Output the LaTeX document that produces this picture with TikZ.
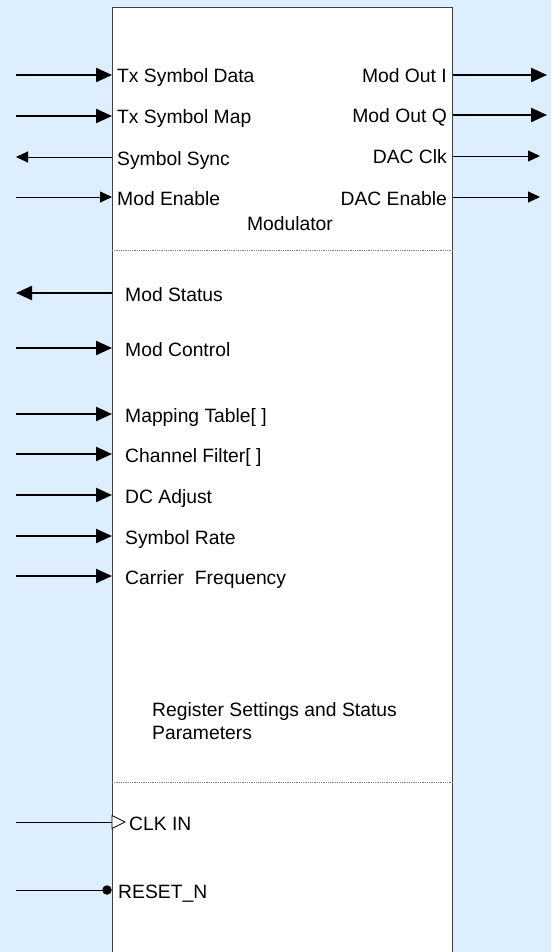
\documentclass[tikz,border=0pt]{standalone}
\usepackage{fontspec}
\setmainfont{Liberation Sans}
\usetikzlibrary{arrows.meta}
\definecolor{canvas}{HTML}{DDEEFF}
\definecolor{edge}{HTML}{404040}

\begin{document}
\begin{tikzpicture}[x=1pt, y=-1pt,
    font=\fontsize{19.3}{23}\selectfont,
    block/.style={draw=edge, fill=white, line width=1pt, inner sep=0pt,
      minimum width=340pt, minimum height=970pt},
    cut/.style={draw=gray, line width=0.8pt, densely dotted},
    bus/.style={line width=2.3pt, -{Triangle[length=16pt,width=14pt]}},
    wire/.style={line width=0.9pt, -{Triangle[length=12pt,width=11pt]}},
    lport/.style={anchor=base west, inner sep=0pt},
    rport/.style={anchor=base east, inner sep=0pt}
    ]
  \fill[canvas] (0,0) rectangle (551,952);
  \useasboundingbox (0,0) rectangle (551,952);
  \clip (0,0) rectangle (551,952);

  \node[block, anchor=north west] (mod) at (112,7) {};
  \coordinate (cut1) at (112,250);
  \coordinate (cut2) at (112,782);
  \draw[cut] (cut1) -- (cut1 -| mod.east);
  \draw[cut] (cut2) -- (cut2 -| mod.east);

  % data ports
  \coordinate (txdata) at (16,75);
  \coordinate (txmap) at (16,116);
  \coordinate (sync) at (16,157);
  \coordinate (enable) at (16,197);
  \draw[bus] (txdata) -- (txdata -| mod.west);
  \draw[bus] (txmap) -- (txmap -| mod.west);
  \draw[wire] (sync -| mod.west) -- (sync);
  \draw[wire] (enable) -- (enable -| mod.west);
  \node[lport] (txdataL) at (117,83) {Tx Symbol Data};
  \node[lport] (txmapL) at (117,124) {Tx Symbol Map};
  \node[lport] (syncL) at (117,165) {Symbol Sync};
  \node[lport] (enableL) at (117,205) {Mod Enable};

  \coordinate (outi) at (547,75);
  \coordinate (outq) at (547,115);
  \coordinate (dacclk) at (540,156);
  \coordinate (dacen) at (540,197);
  \draw[bus] (outi -| mod.east) -- (outi);
  \draw[bus] (outq -| mod.east) -- (outq);
  \draw[wire] (dacclk -| mod.east) -- (dacclk);
  \draw[wire] (dacen -| mod.east) -- (dacen);
  \node[rport] (outiL) at (447,83) {Mod Out I};
  \node[rport] (outqL) at (447,123) {Mod Out Q};
  \node[rport] (dacclkL) at (447,164) {DAC Clk};
  \node[rport] (dacenL) at (447,205) {DAC Enable};

  \node[anchor=base] (modname) at (290,230) {Modulator};

  % registers
  \coordinate (status) at (16,293);
  \coordinate (control) at (16,348);
  \coordinate (maptab) at (16,414);
  \coordinate (filter) at (16,454);
  \coordinate (dcadj) at (16,495);
  \coordinate (rate) at (16,536);
  \coordinate (carrier) at (16,576);
  \draw[bus] (status -| mod.west) -- (status);
  \draw[bus] (control) -- (control -| mod.west);
  \draw[bus] (maptab) -- (maptab -| mod.west);
  \draw[bus] (filter) -- (filter -| mod.west);
  \draw[bus] (dcadj) -- (dcadj -| mod.west);
  \draw[bus] (rate) -- (rate -| mod.west);
  \draw[bus] (carrier) -- (carrier -| mod.west);
  \node[lport] (statusL) at (125,301.5) {Mod Status};
  \node[lport] (controlL) at (125,356) {Mod Control};
  \node[lport] (maptabL) at (125,422) {Mapping Table[ ]};
  \node[lport] (filterL) at (125,462) {Channel Filter[ ]};
  \node[lport] (dcadjL) at (125,503) {DC Adjust};
  \node[lport] (rateL) at (125,544) {Symbol Rate};
  \node[lport] (carrierL) at (125,584) {Carrier~ Frequency};

  \node[anchor=north west, align=left, inner sep=0pt] (regs) at (152,702)
    {Register Settings and Status\\Parameters};

  % clock and reset
  \coordinate (clk) at (16,822);
  \coordinate (rst) at (16,890);
  \draw[line width=0.9pt] (clk) -- (clk -| mod.west);
  \draw[line width=0.8pt, fill=white] (clk -| mod.west) ++(0,-6.5) -- ++(13,6.5)
    -- ++(-13,6.5) -- cycle;
  \node[circle, fill, inner sep=0pt, minimum size=9.5pt] (rstdot) at (107,890) {};
  \draw[line width=0.9pt] (rst) -- (rstdot.center);
  \node[lport] (clkL) at (129,830) {CLK IN};
  \node[lport] (rstL) at (118,898) {RESET\_N};
\end{tikzpicture}
\end{document}
